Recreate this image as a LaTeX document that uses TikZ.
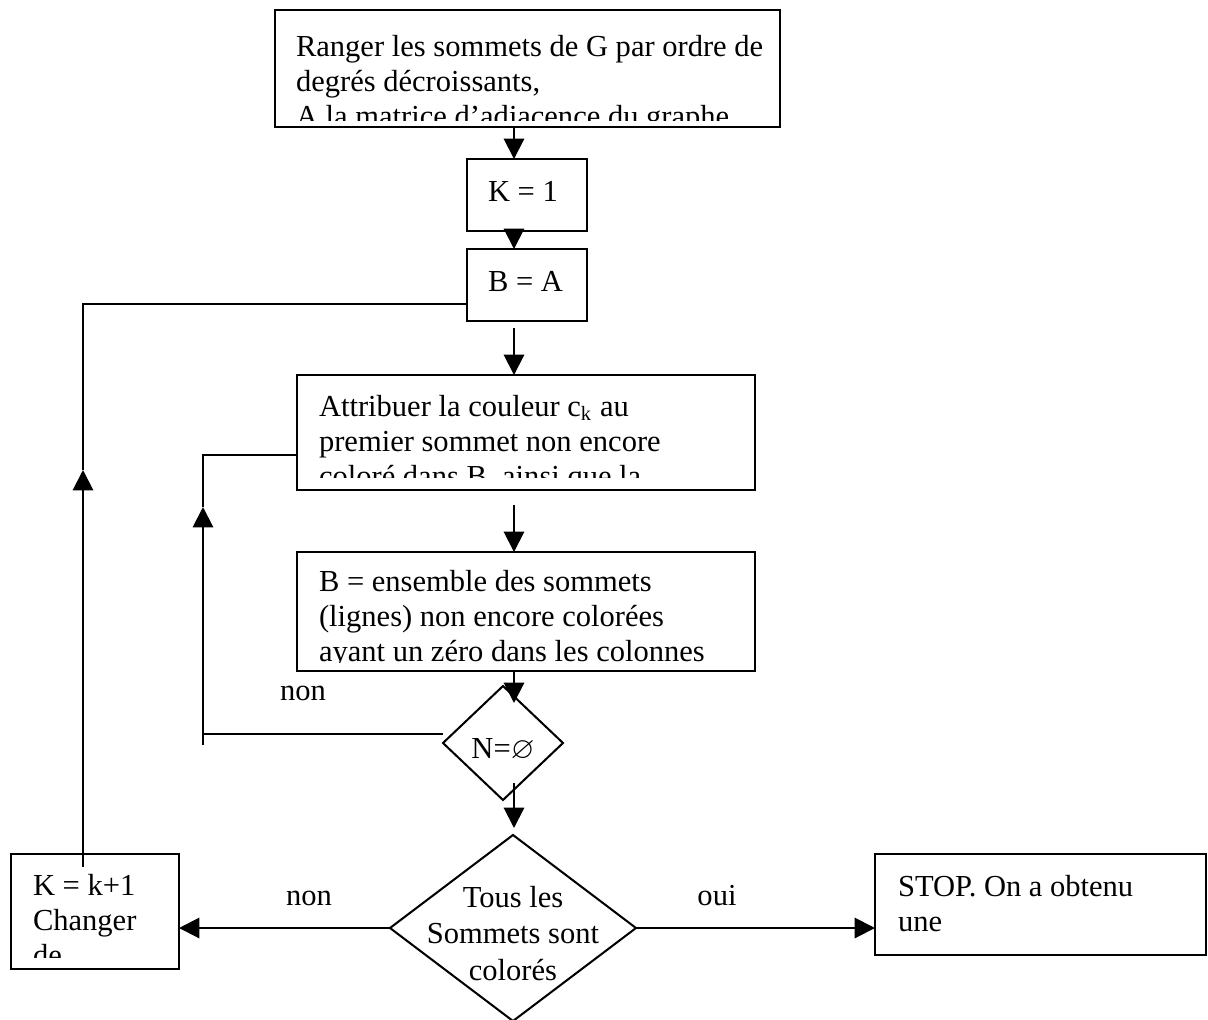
\documentclass[tikz,border=0pt]{standalone}
\usepackage{fontspec}
\usepackage{amssymb}
\setmainfont{Liberation Serif}
\usetikzlibrary{arrows.meta,shapes.geometric}
\newlength{\px}
\setlength{\px}{0.393pt}

\begin{document}
\begin{tikzpicture}[x=\px, y=-\px, line width=0.8pt,
  font=\fontsize{12}{13.8}\selectfont,
  box/.style={draw, rectangle, inner sep=0pt, outer sep=0pt},
  dia/.style={draw, diamond, inner sep=0pt, outer sep=0pt},
  txt/.style={anchor=north west, inner sep=0pt, align=left},
  lbl/.style={anchor=base, inner sep=0pt},
  arr/.style={-{Triangle[length=8pt,width=8pt]}}]
  \useasboundingbox (0,0) rectangle (1208,1020);

  % boxes
  \node[box, minimum width=505\px, minimum height=117\px] (rang) at (527.5,68.5) {};
  \node[box, minimum width=120\px, minimum height=72\px] (k1) at (527,195) {};
  \node[box, minimum width=120\px, minimum height=72\px] (ba) at (527,285) {};
  \node[box, minimum width=458\px, minimum height=115\px] (att) at (526,432.5) {};
  \node[box, minimum width=458\px, minimum height=119\px] (bens) at (526,611.5) {};
  \node[dia, minimum width=120\px, minimum height=114\px] (nd) at (503,743) {};
  \node[dia, minimum width=246\px, minimum height=186\px] (bigd) at (513,928) {};
  \node[box, minimum width=168\px, minimum height=115\px] (kk) at (95,911.5) {};
  \node[box, minimum width=331\px, minimum height=101\px] (stop) at (1040.5,904.5) {};

  % texts
  \begin{scope}
    \clip (rang.north west) rectangle ([yshift=7\px]rang.south east);
    \node[txt] (rangt) at (295,30.4) {\strut Ranger les sommets de G par ordre de\\degrés décroissants,\\A la matrice d’adjacence du graphe};
  \end{scope}
  \node[txt] (k1t) at (487,175.4) {\strut K = 1};
  \node[txt] (bat) at (487,265.4) {\strut B = A};
  \begin{scope}
    \clip (att.north west) rectangle ([yshift=13\px]att.south east);
    \node[txt] (attt) at (318,390.4) {\strut Attribuer la couleur c\textsubscript{k} au\\premier sommet non encore\\coloré dans B, ainsi que la};
  \end{scope}
  \begin{scope}
    \clip (bens.north west) rectangle ([yshift=9\px]bens.south east);
    \node[txt] (benst) at (318,565.4) {\strut B = ensemble des sommets\\(lignes) non encore colorées\\ayant un zéro dans les colonnes};
  \end{scope}
  \node[lbl] (ndt) at (503,758) {N=$\varnothing$};
  \node[anchor=north, inner sep=0pt, align=center, font=\fontsize{12}{14.4}\selectfont] (bigdt) at (513,880.4) {\strut Tous les\\Sommets sont\\colorés};
  \begin{scope}
    \clip (kk.north west) rectangle ([yshift=12\px]kk.south east);
    \node[txt] (kkt) at (32,869.4) {\strut K = k+1\\Changer\\de};
  \end{scope}
  \node[txt] (stopt) at (897,870.4) {\strut STOP. On a obtenu\\une};

  % labels
  \node[lbl] (non1) at (303,700) {non};
  \node[lbl] (non2) at (309,905) {non};
  \node[lbl] (oui) at (717,905) {oui};

  % arrows
  \coordinate (ax) at (514,0);
  \draw[arr] (rang.south -| ax) -- (k1.north -| ax);
  \draw[arr] (k1.south -| ax) -- (ba.north -| ax);
  \draw[arr] ([yshift=-7\px]ba.south -| ax) -- (att.north -| ax);
  \draw[arr] ([yshift=-15\px]att.south -| ax) -- (bens.north -| ax);
  \draw[arr] (bens.south -| ax) -- ([yshift=-17\px]nd.north -| ax);
  \draw[arr] ([yshift=17\px]nd.south -| ax) -- ([yshift=7\px]bigd.north -| ax);
  \draw[arr] (bigd.west) -- (bigd.west -| kk.east);
  \draw[arr] (bigd.east) -- (bigd.east -| stop.west);

  % loops
  \coordinate (l1a) at (83,867);
  \coordinate (l1b) at (83,470);
  \draw[arr] (l1a) -- (l1b);
  \draw (l1b) |- ([yshift=-19\px]ba.west);
  \coordinate (l2a) at (203,745);
  \coordinate (l2b) at (203,507);
  \draw ([yshift=9\px]nd.west) -- ([yshift=9\px]nd.west -| l2a);
  \draw[arr] (l2a) -- (l2b);
  \draw (l2b) |- ([yshift=-22.5\px]att.west);
\end{tikzpicture}
\end{document}
